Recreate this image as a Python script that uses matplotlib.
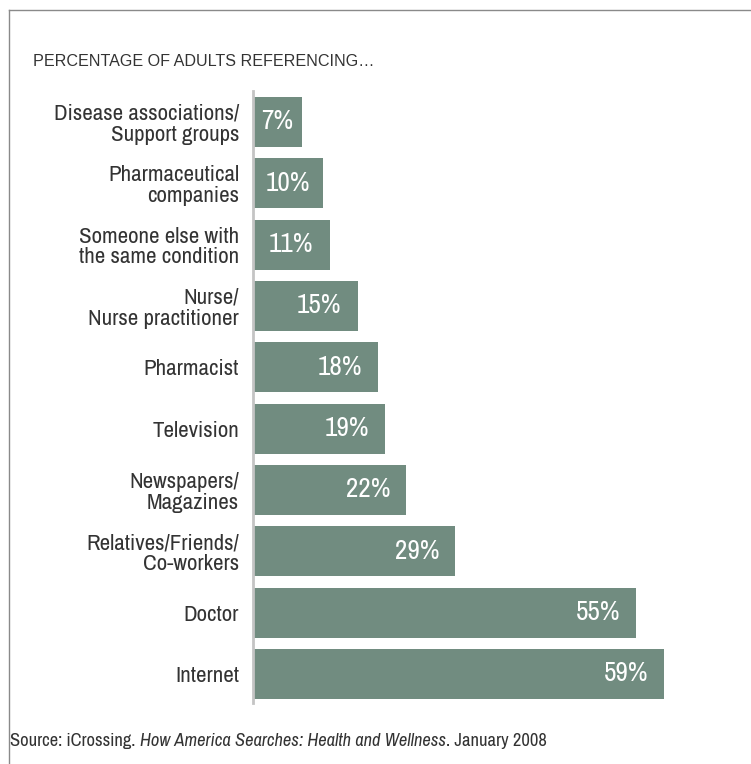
import matplotlib
matplotlib.use("Agg")
import matplotlib.pyplot as plt
from matplotlib.lines import Line2D
from matplotlib import font_manager

categories = [
    "Disease associations/\nSupport groups",
    "Pharmaceutical\ncompanies",
    "Someone else with\nthe same condition",
    "Nurse/\nNurse practitioner",
    "Pharmacist",
    "Television",
    "Newspapers/\nMagazines",
    "Relatives/Friends/\nCo-workers",
    "Doctor",
    "Internet",
]
values = [7, 10, 11, 15, 18, 19, 22, 29, 55, 59]
value_labels = ["7%", "10%", "11%", "15%", "18%", "19%", "22%", "29%", "55%", "59%"]

# pick a condensed font if one exists
cond = None
for f in font_manager.fontManager.ttflist:
    if ("Condensed" in f.name or "Narrow" in f.name) and f.style == "normal":
        cond = f.name
        break

FONT = ([cond] if cond else []) + ["Liberation Sans", "DejaVu Sans"]
plt.rcParams["font.family"] = FONT

W, H = 751, 764
fig = plt.figure(figsize=(W / 100, H / 100), dpi=100)

ax_left = 253 / W
ax = fig.add_axes([ax_left, 1 - 703 / H, 1 - ax_left, (703 - 91) / H])

n = len(categories)
ypos = [n - 1 - i for i in range(n)]
bar_color = "#718c80"
ax.barh(ypos, values, height=0.815, color=bar_color, zorder=2)
ax.set_xlim(0, (W - 253) / 6.97)
ax.set_ylim(-0.473, n - 1 + 0.505)

for y, v, lab in zip(ypos, values, value_labels):
    if v <= 11:
        ax.text(v / 2, y, lab, ha="center", va="center", color="white",
                fontsize=19.5, zorder=3)
    else:
        ax.annotate(lab, xy=(v, y), xytext=(-11.5, 0), textcoords="offset points",
                    ha="right", va="center", color="white", fontsize=19.5, zorder=3)

ax.set_yticks(ypos)
ax.set_yticklabels(categories, fontsize=16.5, color="#333333", linespacing=1.05)
ax.tick_params(axis="y", length=0, pad=10)
ax.set_xticks([])
for s in ["top", "right", "bottom"]:
    ax.spines[s].set_visible(False)
ax.spines["left"].set_color("#c4c4c4")
ax.spines["left"].set_linewidth(2)

# frame
fig.add_artist(Line2D([9 / W, 9 / W], [0, 1 - 10 / H], transform=fig.transFigure,
                      color="#8a8a8a", lw=1))
fig.add_artist(Line2D([9 / W, 1], [1 - 10 / H, 1 - 10 / H], transform=fig.transFigure,
                      color="#8a8a8a", lw=1))

fig.text(33 / W, 1 - 61 / H, "PERCENTAGE OF ADULTS REFERENCING…", fontsize=11.6,
         family=["Liberation Sans", "DejaVu Sans"],
         color="#333333", va="center", ha="left")

# source line in three pieces (regular / italic / regular)
renderer = fig.canvas.get_renderer()
parts = [("Source: iCrossing. ", "normal"),
         ("How America Searches: Health and Wellness", "italic"),
         (". January 2008", "normal")]
x = 10
for txt, st in parts:
    t = fig.text(x / W, 1 - 741 / H, txt, fontsize=13.3, style=st,
                 color="#333333", va="center", ha="left")
    bb = t.get_window_extent(renderer)
    x += bb.width

fig.savefig("out.png", dpi=100)
